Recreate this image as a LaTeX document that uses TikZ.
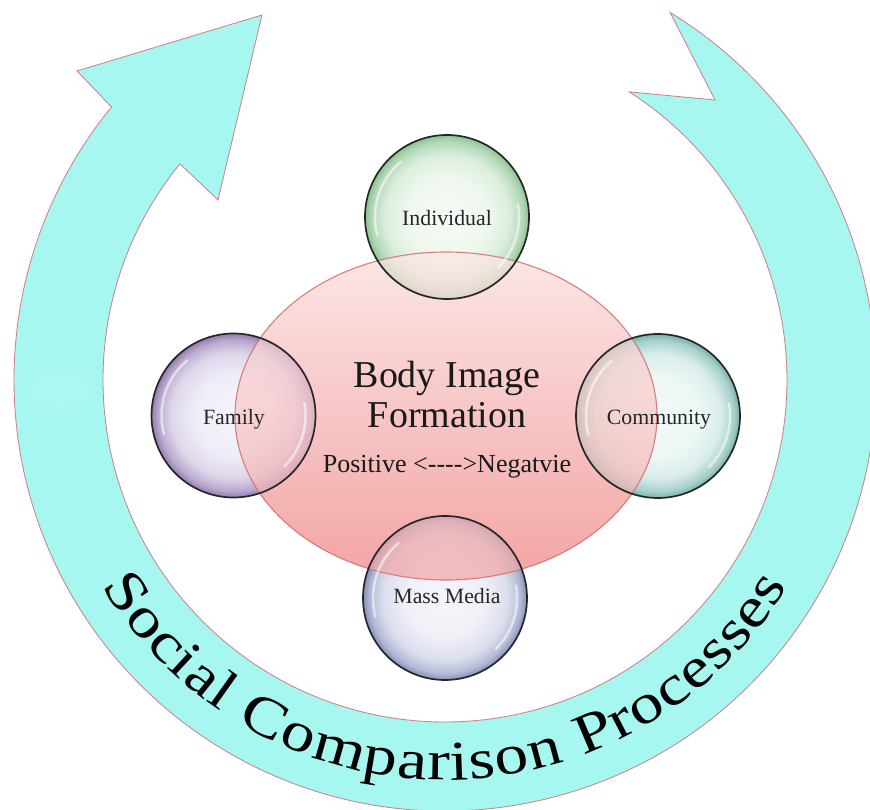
\documentclass[tikz,border=0pt]{standalone}
\usepackage{fontspec}
\setmainfont{Liberation Serif}
\newfontfamily\arcfont[FakeStretch=1.2]{Liberation Serif}
\usetikzlibrary{calc,decorations.text,shadings}

\definecolor{ringfill}{RGB}{165,247,239}
\definecolor{ringline}{RGB}{205,130,140}
\definecolor{elltop}{RGB}{252,230,230}
\definecolor{ellbot}{RGB}{243,164,164}
\definecolor{ellline}{RGB}{212,110,110}

\pgfdeclareradialshading{glassgreen}{\pgfpoint{0bp}{0bp}}{rgb(0bp)=(0.96,0.98,0.96); rgb(12bp)=(0.94,0.97,0.94); rgb(19bp)=(0.86,0.93,0.87); rgb(23bp)=(0.70,0.85,0.72); rgb(25bp)=(0.55,0.76,0.58); rgb(50bp)=(0.55,0.76,0.58)}
\pgfdeclareradialshading{glasspurple}{\pgfpoint{0bp}{0bp}}{rgb(0bp)=(0.96,0.95,0.98); rgb(12bp)=(0.94,0.93,0.97); rgb(19bp)=(0.87,0.84,0.92); rgb(23bp)=(0.73,0.66,0.81); rgb(25bp)=(0.58,0.49,0.68); rgb(50bp)=(0.58,0.49,0.68)}
\pgfdeclareradialshading{glassteal}{\pgfpoint{0bp}{0bp}}{rgb(0bp)=(0.95,0.98,0.975); rgb(12bp)=(0.93,0.97,0.965); rgb(19bp)=(0.85,0.93,0.92); rgb(23bp)=(0.66,0.82,0.80); rgb(25bp)=(0.47,0.70,0.67); rgb(50bp)=(0.47,0.70,0.67)}
\pgfdeclareradialshading{glassblue}{\pgfpoint{0bp}{0bp}}{rgb(0bp)=(0.96,0.96,0.98); rgb(12bp)=(0.94,0.94,0.97); rgb(19bp)=(0.86,0.87,0.93); rgb(23bp)=(0.70,0.73,0.84); rgb(25bp)=(0.52,0.56,0.72); rgb(50bp)=(0.52,0.56,0.72)}

\begin{document}
\begin{tikzpicture}[x=0.025cm,y=0.025cm,
  lbl/.style={font=\fontsize{15.5}{18}\selectfont, text=black!85, anchor=base, inner sep=0pt},
  bigtxt/.style={font=\fontsize{27}{30}\selectfont, text=black!90, anchor=base, inner sep=0pt},
  midtxt/.style={font=\fontsize{18.5}{22}\selectfont, text=black!90, anchor=base, inner sep=0pt},
  bubbleline/.style={draw=black!85, line width=1.2pt},
  gloss/.style={draw=white, line width=1.8pt, line cap=round, opacity=0.55}]
\useasboundingbox (0,0) rectangle (870,810);
\clip (0,0) rectangle (870,810);
\coordinate (C) at (445,430);
\coordinate (E) at (446,394);
\coordinate (I) at (447,593);
\coordinate (F) at (233.5,394.5);
\coordinate (M) at (658,394);
\coordinate (B) at (445,212);

% ---- big circular arrow
\fill[ringfill, draw=ringline, line width=0.6pt]
  ($(C)+(58.5:431)$) arc[start angle=58.5, end angle=-219.3, radius=431]
  -- (77,739) -- (262,795) -- (218,610)
  -- ($(C)+(-219.2:342)$) arc[start angle=-219.2, end angle=57.4, radius=342]
  -- (715,710) -- cycle;
\fill[white, opacity=0.08] (60,420) ellipse[x radius=32, y radius=18];

% ---- arc text
\path[decorate, decoration={text along path, text align=fit to path,
   text={|\arcfont\fontsize{40}{40}\selectfont|Social Comparison Processes}}]
  ($(C)+(211:400)$) arc[start angle=211, end angle=329, radius=400];

% ---- central ellipse
\shade[top color=elltop, bottom color=ellbot] (E) ellipse[x radius=211, y radius=164];

% ---- bubbles
\shade[shading=glassgreen]  (I) circle[radius=82];
\shade[shading=glasspurple] (F) circle[radius=82];
\shade[shading=glassteal]   (M) circle[radius=82];
\shade[shading=glassblue]   (B) circle[radius=82];

% ---- translucent ellipse over bubbles
\shade[top color=elltop, bottom color=ellbot, fill opacity=0.7] (E) ellipse[x radius=211, y radius=164];
\draw[ellline, line width=0.8pt, opacity=0.85] (E) ellipse[x radius=211, y radius=164];

% ---- bubble outlines and gloss
\foreach \c in {I,F,M,B}{
  \draw[gloss] ($(\c)+(130:72)$) arc[start angle=130, end angle=195, radius=72];
  \draw[gloss] ($(\c)+(-45:72)$) arc[start angle=-45, end angle=10, radius=72];
  \draw[bubbleline] (\c) circle[radius=82];
}

% ---- texts
\node[lbl] (tI) at (447,584) {Individual};
\node[lbl] (tF) at (234,385) {Family};
\node[lbl] (tM) at (659,385) {Community};
\node[lbl] (tB) at (447,206) {Mass Media};
\node[bigtxt] (t1) at (447,422) {Body Image};
\node[bigtxt] (t2) at (447,382) {Formation};
\node[midtxt] (t3) at (447,337) {Positive <-{}-{}-{}->Negatvie};
\end{tikzpicture}
\end{document}
